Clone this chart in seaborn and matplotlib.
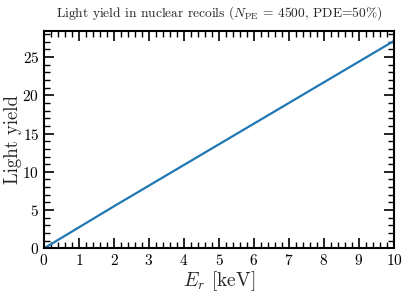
import matplotlib
matplotlib.use("Agg")
import matplotlib.pyplot as plt
import seaborn as sns
import pandas as pd
from matplotlib.ticker import MultipleLocator

# --- data ---
energy_kev = [0, 1, 2, 3, 4, 5, 6, 7, 8, 9, 10]
light_yield = [0.0, 2.75, 5.5, 8.2, 10.9, 13.6, 16.3, 19.0, 21.7, 24.4, 27.1]

df = pd.DataFrame({"Er": energy_kev, "LY": light_yield})

# --- styling ---
sns.set_theme(style="ticks")
plt.rcParams["font.family"] = ["cmr10", "DejaVu Serif"]
plt.rcParams["mathtext.fontset"] = "cm"
plt.rcParams["axes.formatter.use_mathtext"] = True
plt.rcParams["axes.unicode_minus"] = False

fig, ax = plt.subplots(figsize=(4.07, 2.95), dpi=100)
sns.lineplot(data=df, x="Er", y="LY", ax=ax, color="#1f77b4", linewidth=1.6)

ax.set_xlim(0, 10)
ax.set_ylim(0, 28.4)
ax.xaxis.set_major_locator(MultipleLocator(1))
ax.xaxis.set_minor_locator(MultipleLocator(0.2))
ax.yaxis.set_major_locator(MultipleLocator(5))
ax.yaxis.set_minor_locator(MultipleLocator(1))
ax.tick_params(which="both", direction="in", top=True, right=True, colors="black")
ax.tick_params(which="major", length=7, width=1.2, labelsize=11)
ax.tick_params(which="minor", length=4, width=1.0)
for sp in ax.spines.values():
    sp.set_linewidth(1.5)
    sp.set_color("black")

ax.set_xlabel(r"$E_r$ [keV]", fontsize=14, labelpad=1)
ax.set_ylabel("Light yield", fontsize=13.5, labelpad=0)
ax.set_title(r"Light yield in nuclear recoils ($N_{\rm PE}$ = 4500, PDE=50%)", fontsize=9.7, pad=10)

fig.subplots_adjust(left=0.108, right=0.968, top=0.895, bottom=0.158)
fig.savefig("out.png", dpi=100)
